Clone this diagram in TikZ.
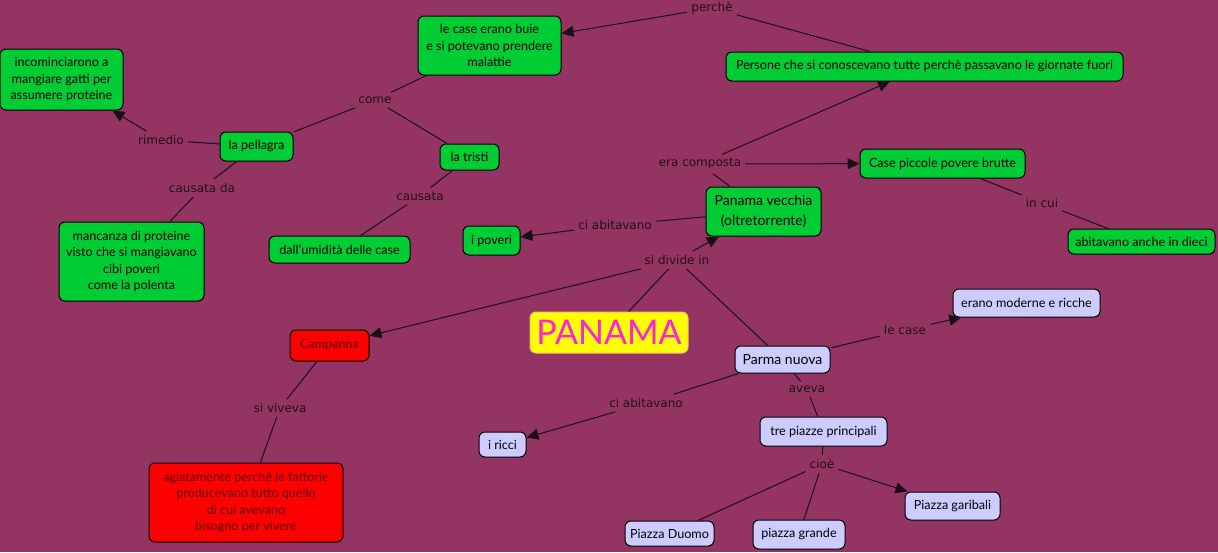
\documentclass[tikz,border=0pt]{standalone}
\usepackage{fontspec}
\setmainfont{Lato}
\newfontfamily\labelfont{DejaVu Sans}
\usetikzlibrary{arrows.meta}
\definecolor{bg}{RGB}{148,52,98}
\definecolor{cgreen}{RGB}{0,204,51}
\definecolor{clav}{RGB}{204,204,255}
\definecolor{cred}{RGB}{255,0,0}
\definecolor{cyel}{RGB}{255,255,0}
\definecolor{cmag}{RGB}{255,34,221}
\definecolor{cline}{RGB}{25,15,25}
\definecolor{ctxt}{RGB}{35,15,25}
\definecolor{credtxt}{RGB}{90,0,0}
\definecolor{cyelborder}{RGB}{240,190,110}
\tikzset{
 box/.style={draw=black, line width=1pt, rounded corners=6pt, align=center, inner sep=0pt, font=\fontsize{12.6}{16.5}\selectfont, text=black},
 gbox/.style={box, fill=cgreen},
 lbox/.style={box, fill=clav},
 rbox/.style={box, fill=cred, text=credtxt},
 lab/.style={font=\labelfont\fontsize{12}{14}\selectfont, text=ctxt, inner sep=4pt},
 con/.style={draw=cline, line width=1pt},
 arr/.style={con, -{Triangle[length=12pt,width=11pt]}},
}
\begin{document}
\begin{tikzpicture}[x=1pt,y=-1pt]
\fill[bg] (0,0) rectangle (1218,552);
\useasboundingbox (0,0) rectangle (1218,552);
% concept nodes
\node[gbox, minimum width=143, minimum height=59] (lecase) at (489.5,45.5) {le case erano buie\\e si potevano prendere\\malattie};
\node[gbox, minimum width=397, minimum height=29] (persone) at (924.5,66.5) {Persone che si conoscevano tutte perchè passavano le giornate fuori};
\node[gbox, minimum width=123, minimum height=61] (gatti) at (61.5,79.5) {incominciarono a\\mangiare gatti per\\assumere proteine};
\node[gbox, minimum width=73, minimum height=29] (pellagra) at (256.5,146.5) {la pellagra};
\node[gbox, minimum width=59, minimum height=26] (tristi) at (469.5,157) {la tristi};
\node[gbox, minimum width=165, minimum height=29] (piccole) at (942.5,163.5) {Case piccole povere brutte};
\node[gbox, minimum width=115, minimum height=49, font=\fontsize{14}{20}\selectfont] (vecchia) at (763.5,211.5) {Panama vecchia\\(oltretorrente)};
\node[gbox, minimum width=57, minimum height=29] (poveri) at (491.5,240.5) {i poveri};
\node[gbox, minimum width=141, minimum height=27] (umidita) at (339.5,249.5) {dall'umidità delle case};
\node[gbox, minimum width=145, minimum height=79] (mancanza) at (131.5,261.5) {mancanza di proteine\\visto che si mangiavano\\cibi poveri\\come la polenta};
\node[gbox, minimum width=147, minimum height=25] (dieci) at (1141.5,241.5) {abitavano anche in dieci};
\node[lbox, minimum width=147, minimum height=28] (moderne) at (1026.5,303) {erano moderne e ricche};
\node[box, fill=cyel, draw=cyelborder, text=cmag, minimum width=158, minimum height=41, font=\fontsize{34}{36}\selectfont] (panama) at (609,332.5) {PANAMA};
\node[rbox, minimum width=79, minimum height=31] (campanna) at (329.5,345.5) {Campanna};
\node[lbox, minimum width=95, minimum height=27, font=\fontsize{14}{18}\selectfont] (nuova) at (782.5,359.5) {Parma nuova};
\node[lbox, minimum width=47, minimum height=25] (ricci) at (502.5,444.5) {i ricci};
\node[lbox, minimum width=127, minimum height=29] (tre) at (823.5,431.5) {tre piazze principali};
\node[rbox, minimum width=194, minimum height=79] (agiata) at (246,502.5) {agiatamente perchè le fattorie\\producevano tutto quello\\di cui avevano\\bisogno per vivere};
\node[lbox, minimum width=95, minimum height=28] (garibali) at (952.5,506) {Piazza garibali};
\node[lbox, minimum width=89, minimum height=25] (duomo) at (669.5,533.5) {Piazza Duomo};
\node[lbox, minimum width=92, minimum height=29] (grande) at (799,534.5) {piazza grande};
% link labels
\node[lab] (lperche) at (712,8) {perchè};
\node[lab] (lcome) at (375,100) {come};
\node[lab] (lrimedio) at (161,140) {rimedio};
\node[lab] (lcausatada) at (202,188) {causata da};
\node[lab] (lcausata) at (420,196) {causata};
\node[lab] (lcomposta) at (700,164) {era composta};
\node[lab] (labit1) at (615,225) {ci abitavano};
\node[lab] (ldivide) at (677,260) {si divide in};
\node[lab] (lincui) at (1042,203) {in cui};
\node[lab] (llecase) at (905,330) {le case};
\node[lab] (laveva) at (807,389) {aveva};
\node[lab] (labit2) at (646,403) {ci abitavano};
\node[lab] (lviveva) at (280,408) {si viveva};
\node[lab] (lcioe) at (822,464) {cioè};
% connectors
\draw[con] (persone) -- (lperche);
\draw[arr] (lperche) -- (lecase);
\draw[con] (lecase) -- (lcome);
\draw[con] (lcome) -- (pellagra);
\draw[con] (lcome) -- (tristi);
\draw[con] (pellagra) -- (lrimedio);
\draw[arr] (lrimedio) -- (gatti);
\draw[con] (pellagra) -- (lcausatada);
\draw[con] (lcausatada) -- (mancanza);
\draw[con] (tristi) -- (lcausata);
\draw[con] (lcausata) -- (umidita);
\draw[con] (vecchia) -- (lcomposta);
\draw[arr] (lcomposta) -- (persone);
\draw[arr] (lcomposta) -- (piccole);
\draw[con] (vecchia) -- (labit1);
\draw[arr] (labit1) -- (poveri);
\draw[con] (piccole) -- (lincui);
\draw[con] (lincui) -- (dieci);
\draw[con] (panama) -- (ldivide);
\draw[arr] (ldivide) -- (vecchia);
\draw[arr] (ldivide) -- (campanna);
\draw[con] (ldivide) -- (nuova);
\draw[con] (nuova) -- (llecase);
\draw[arr] (llecase) -- (moderne);
\draw[con] (nuova) -- (laveva);
\draw[con] (laveva) -- (tre);
\draw[con] (nuova) -- (labit2);
\draw[arr] (labit2) -- (ricci);
\draw[con] (tre) -- (lcioe);
\draw[con] (lcioe) -- (duomo);
\draw[con] (lcioe) -- (grande);
\draw[arr] (lcioe) -- (garibali);
\draw[con] (campanna) -- (lviveva);
\draw[con] (lviveva) -- (agiata);
\end{tikzpicture}
\end{document}
